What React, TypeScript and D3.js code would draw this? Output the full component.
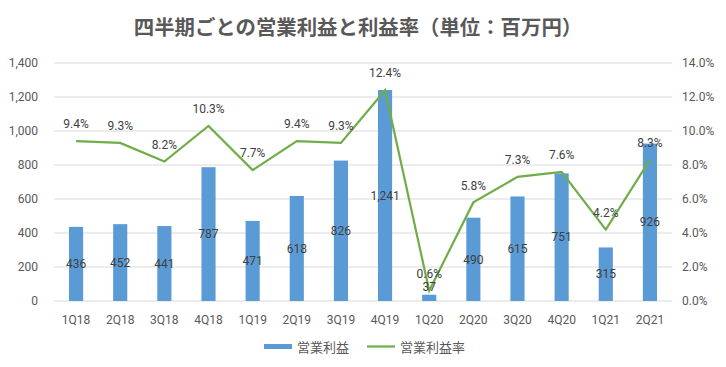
import * as d3 from 'd3'
import React from 'react'

const quarters = ['1Q18', '2Q18', '3Q18', '4Q18', '1Q19', '2Q19', '3Q19', '4Q19', '1Q20', '2Q20', '3Q20', '4Q20', '1Q21', '2Q21']
const profit = [436, 452, 441, 787, 471, 618, 826, 1241, 37, 490, 615, 751, 315, 926]
const margin = [9.4, 9.3, 8.2, 10.3, 7.7, 9.4, 9.3, 12.4, 0.6, 5.8, 7.3, 7.6, 4.2, 8.3]
const leftTicks = [0, 200, 400, 600, 800, 1000, 1200, 1400]
const rightTicks = [0, 2, 4, 6, 8, 10, 12, 14]

const W = 726
const H = 367
const plot = { left: 54, right: 672, top: 63, bottom: 301 }
const barColor = '#5B9BD5'
const lineColor = '#70AD47'
const textColor = '#404040'
const numFont = 'Roboto, "Liberation Sans", sans-serif'
const jpFont = '"Noto Sans CJK JP", sans-serif'

export default function App() {
  // excel style: gap between bars split evenly, half gap on each edge
  const x = d3.scaleBand<string>().domain(quarters).range([plot.left, plot.right])
    .paddingInner(0.68).paddingOuter(0.34)
  const yL = d3.scaleLinear().domain([0, 1400]).range([plot.bottom, plot.top])
  const yR = d3.scaleLinear().domain([0, 14]).range([plot.bottom, plot.top])
  const fmtL = d3.format(',')
  const fmtR = (v: number) => v.toFixed(1) + '%'
  const cx = (q: string) => (x(q) as number) + x.bandwidth() / 2

  const line = d3.line<number>()
    .x((_, i) => cx(quarters[i]))
    .y(d => yR(d))

  return (
    <svg width={W} height={H} style={{ position: 'absolute', left: 0, top: 0, background: '#fff' }}>
      <text x={358} y={27.5} dy="0.35em" textAnchor="middle" fontFamily={jpFont} fontWeight="bold" fontSize={20.4} fill="#595959">
        四半期ごとの営業利益と利益率（単位：百万円）
      </text>

      {leftTicks.map(t => (
        <g key={'g' + t}>
          <line x1={plot.left} x2={plot.right} y1={yL(t)} y2={yL(t)} stroke="#d9d9d9" strokeWidth={1} />
          <text x={38} y={yL(t)} dy="0.35em" textAnchor="end" fontFamily={numFont} fontSize={12} fill="#595959">{fmtL(t)}</text>
        </g>
      ))}
      {rightTicks.map(t => (
        <text key={'r' + t} x={682} y={yR(t)} dy="0.35em" textAnchor="start" fontFamily={numFont} fontSize={12} fill="#595959">{fmtR(t)}</text>
      ))}

      {quarters.map((q, i) => (
        <rect key={'b' + q} x={x(q)} y={yL(profit[i])} width={x.bandwidth()} height={plot.bottom - yL(profit[i])} fill={barColor} />
      ))}

      <path d={line(margin) || ''} fill="none" stroke={lineColor} strokeWidth={2.2} />

      {quarters.map((q, i) => (
        <text key={'bl' + q} x={cx(q)} y={Math.min((yL(profit[i]) + plot.bottom) / 2, plot.bottom - 14)} dy="0.35em" textAnchor="middle" fontFamily={numFont} fontSize={12} fill={textColor}>
          {fmtL(profit[i])}
        </text>
      ))}
      {quarters.map((q, i) => (
        <text key={'ll' + q} x={cx(q)} y={yR(margin[i]) - 17} dy="0.35em" textAnchor="middle" fontFamily={numFont} fontSize={12} fill={textColor}>
          {fmtR(margin[i])}
        </text>
      ))}

      {quarters.map(q => (
        <text key={'x' + q} x={cx(q)} y={320} dy="0.35em" textAnchor="middle" fontFamily={numFont} fontSize={12} fill="#595959">{q}</text>
      ))}

      <g>
        <rect x={264} y={344} width={28} height={5} fill={barColor} />
        <text x={297} y={347} dy="0.35em" fontFamily={jpFont} fontSize={13} fill="#595959">営業利益</text>
        <line x1={367} x2={395} y1={346.5} y2={346.5} stroke={lineColor} strokeWidth={2.2} />
        <text x={400} y={347} dy="0.35em" fontFamily={jpFont} fontSize={13} fill="#595959">営業利益率</text>
      </g>
    </svg>
  )
}
